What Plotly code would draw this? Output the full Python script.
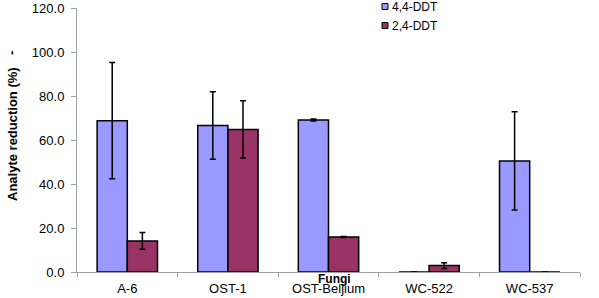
import plotly.graph_objects as go

categories = ["A-6", "OST-1", "OST-Beljium", "WC-522", "WC-537"]
ddt44 = [68.8, 66.6, 69.1, 0.0, 50.5]
ddt44_err = [26.4, 15.3, 0.5, 0.0, 22.3]
ddt24 = [14.1, 64.8, 15.9, 2.9, 0.0]
ddt24_err = [3.8, 13.0, 0.2, 1.3, 0.0]
series_names = ["4,4-DDT", "2,4-DDT"]
series_colors = ["#9999FF", "#993366"]
yticks = [0, 20, 40, 60, 80, 100, 120]

L, R, T, B = 77, 19, 8, 26
W, H = 599, 298
PW, PH = W - L - R, H - T - B

def px(x):
    return (x - L) / PW

def py(y):
    return (H - B - y) / PH

fig = go.Figure()
for name, vals, errs, col in zip(series_names, [ddt44, ddt24], [ddt44_err, ddt24_err], series_colors):
    fig.add_trace(go.Bar(
        x=categories, y=vals, name=name,
        marker=dict(color=col, line=dict(color="black", width=1.5)),
        error_y=dict(type="data", array=errs, visible=True, color="black", thickness=1.5, width=3),
    ))

shapes = []
annotations = []
for i, (name, col) in enumerate(zip(series_names, series_colors)):
    cy = 6.5 + 19 * i
    shapes.append(dict(type="rect", xref="paper", yref="paper",
                       x0=px(382), x1=px(388), y0=py(cy - 3), y1=py(cy + 3),
                       fillcolor=col, line=dict(color="black", width=1)))
    annotations.append(dict(text=name, x=px(390), y=py(cy), xref="paper", yref="paper",
                            xanchor="left", yanchor="middle", showarrow=False,
                            font=dict(size=12)))

annotations += [
    dict(text="<b>Analyte reduction (%)</b>", textangle=-90, x=px(12), y=py(134),
         xref="paper", yref="paper", xanchor="center", yanchor="middle",
         showarrow=False, font=dict(size=13)),
    dict(text="<b>-</b>", textangle=-90, x=px(12), y=py(53),
         xref="paper", yref="paper", xanchor="center", yanchor="middle",
         showarrow=False, font=dict(size=13)),
    dict(text="<b>Fungi</b>", x=px(334), y=py(279),
         xref="paper", yref="paper", xanchor="center", yanchor="middle",
         showarrow=False, font=dict(size=12)),
]

fig.update_layout(
    width=W, height=H,
    margin=dict(l=L, r=R, t=T, b=B, autoexpand=False),
    paper_bgcolor="white", plot_bgcolor="white",
    barmode="group", bargap=0.4, bargroupgap=0,
    font=dict(family="Liberation Sans, Arial, sans-serif", size=13, color="black"),
    showlegend=False,
    xaxis=dict(
        showline=True, linecolor="#A0A0A0", linewidth=1,
        ticks="outside", tickson="boundaries", ticklen=4, tickcolor="#A0A0A0",
        tickfont=dict(size=13), ticklabelstandoff=4,
    ),
    yaxis=dict(
        range=[0, 120], tickvals=yticks, tickformat=".1f",
        showline=True, linecolor="#A0A0A0", linewidth=1,
        ticks="outside", ticklen=5, tickcolor="#A0A0A0",
        showgrid=False, zeroline=False,
        tickfont=dict(size=13), ticklabelstandoff=4,
    ),
    shapes=shapes,
    annotations=annotations,
)
fig.write_html("out.html", config={"displayModeBar": False},
               post_script="document.body.style.margin='0';")
